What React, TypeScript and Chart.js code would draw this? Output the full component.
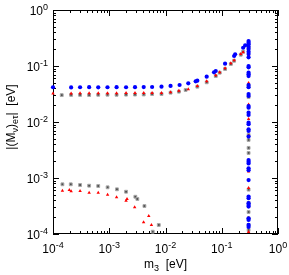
import React, { useEffect, useRef } from "react";
import { Chart, registerables } from "chart.js";

Chart.register(...registerables);

// ---- data (eV) ----
const verticalX = 0.3;

const blueMainX = [1e-4, 2.1e-4, 3.03e-4, 4.39e-4, 6.37e-4, 9.3e-4, 1.35e-3, 1.99e-3, 2.87e-3, 4.1e-3, 5.78e-3, 8.49e-3, 0.0123, 0.0178, 0.0254, 0.0344, 0.0368, 0.054, 0.0729, 0.0782, 0.1146, 0.166, 0.173, 0.24, 0.261];
const blueMainY = [0.0417, 0.0415, 0.0417, 0.0418, 0.0416, 0.0417, 0.0418, 0.0417, 0.0419, 0.042, 0.0422, 0.0427, 0.044, 0.0458, 0.0491, 0.0533, 0.0547, 0.0644, 0.0771, 0.0815, 0.11, 0.151, 0.162, 0.212, 0.234];
const blueVertY = [0.279, 0.261, 0.244, 0.221, 0.201, 0.18, 0.164, 0.143, 0.1, 0.0948, 0.0759, 0.0711, 0.0661, 0.0457, 0.0417, 0.0316, 0.0291, 0.0193, 0.018, 0.01466, 0.01334, 0.00972, 0.00911, 0.00741, 0.00691, 0.0055, 0.00209, 0.00195, 0.00182, 0.00149, 0.00138, 0.00092, 0.000467, 0.000435, 0.000355, 0.000331, 0.000309, 0.000191, 0.000178, 0.000145, 0.000134];

const redMainX = [1e-4, 2.1e-4, 3.03e-4, 4.39e-4, 6.37e-4, 9.3e-4, 1.35e-3, 1.99e-3, 2.87e-3, 4.1e-3, 5.78e-3, 8.49e-3, 0.0123, 0.0173, 0.0254, 0.0368, 0.054, 0.0782, 0.092, 0.1146, 0.145, 0.166, 0.218, 0.24];
const redMainY = [0.0322, 0.0324, 0.0325, 0.0326, 0.0326, 0.0327, 0.0327, 0.0328, 0.0329, 0.033, 0.033, 0.033, 0.0339, 0.0363, 0.0384, 0.044, 0.0533, 0.0682, 0.0776, 0.0912, 0.1117, 0.1265, 0.1637, 0.1758];
const redVertY = [0.261, 0.228, 0.19, 0.157, 0.0497, 0.03, 0.0205, 0.01132, 0.00691, 0.0057, 0.0013, 0.00066, 0.000458, 0.000305, 0.000194, 0.000109];
const redLowX = [1.47e-4, 1.95e-4, 2.1e-4, 3.03e-4, 4.39e-4, 6.37e-4, 9.35e-4, 1.35e-3, 1.99e-3, 2.07e-3, 2.83e-3, 4.08e-3, 5.04e-3, 5.62e-3];
const redLowY = [5.93e-4, 6.11e-4, 5.79e-4, 5.86e-4, 5.46e-4, 5.46e-4, 5.0e-4, 4.52e-4, 3.93e-4, 4.22e-4, 3.0e-4, 1.62e-4, 2.09e-4, 1.45e-4];

const blackMainX = [1.43e-4, 2.1e-4, 3.03e-4, 4.39e-4, 6.37e-4, 9.3e-4, 1.35e-3, 1.99e-3, 2.87e-3, 4.1e-3, 5.78e-3, 8.49e-3, 0.0123, 0.0173, 0.0228, 0.0368, 0.054, 0.0782, 0.092, 0.1146, 0.145, 0.166, 0.218, 0.24];
const blackMainY = [0.0302, 0.0305, 0.0305, 0.0303, 0.0306, 0.0307, 0.0306, 0.0308, 0.0309, 0.031, 0.0316, 0.0316, 0.0334, 0.0348, 0.0373, 0.0427, 0.0511, 0.0662, 0.0759, 0.0884, 0.1086, 0.124, 0.159, 0.18];
const blackVertY = [0.21, 0.044, 0.0279, 0.00588, 0.00478, 0.00345, 0.0028, 0.00062, 0.00036, 0.000247, 0.00019, 0.000145, 0.000118];
const blackLowX = [1.47e-4, 2.07e-4, 3.03e-4, 4.39e-4, 6.37e-4, 9.35e-4, 1.37e-3, 1.99e-3, 2.91e-3, 3.16e-3, 4.22e-3, 5.93e-3, 7.59e-3];
const blackLowY = [7.72e-4, 7.72e-4, 7.5e-4, 7.29e-4, 7.2e-4, 6.82e-4, 6.28e-4, 5.69e-4, 4.63e-4, 4.22e-4, 3.16e-4, 1.1e-4, 1.45e-4];

const tickExponents = [-4, -3, -2, -1, 0];
const xTitle = [["m", "n"], ["3", "sub"], ["  [eV]", "n"]];
const yTitle = [["|(M", "n"], ["ν", "sub"], [")", "n"], ["eτ", "sub"], ["|  [eV]", "n"]];

const FONT = '"Liberation Sans", Arial, Helvetica, sans-serif';

function pts(xs: number[], ys: number[]) {
  return xs.map((x, i) => ({ x, y: ys[i] }));
}
function vpts(ys: number[]) {
  return ys.map((y) => ({ x: verticalX, y }));
}

function segWidth(ctx: CanvasRenderingContext2D, segs: string[][]) {
  let w = 0;
  for (const [t, k] of segs) {
    ctx.font = `${k === "n" ? 12 : 9}px ${FONT}`;
    w += ctx.measureText(t).width;
  }
  return w;
}
function drawSegs(ctx: CanvasRenderingContext2D, segs: string[][], x0: number, baseline: number) {
  let x = x0;
  for (const [t, k] of segs) {
    ctx.font = `${k === "n" ? 12 : 9}px ${FONT}`;
    const dy = k === "sub" ? 3 : k === "sup" ? -5 : 0;
    ctx.fillText(t, x, baseline + dy);
    x += ctx.measureText(t).width;
  }
}

const framePlugin = {
  id: "gnuframe",
  beforeDatasetsDraw(chart: any) {
    const { ctx, chartArea } = chart;
    const { left, right, top, bottom } = chartArea;
    const xs = chart.scales.x;
    const ys = chart.scales.y;
    ctx.save();
    ctx.strokeStyle = "#000";
    ctx.lineWidth = 1;
    ctx.strokeRect(left + 0.5, top + 0.5, right - left - 1, bottom - top - 1);
    ctx.beginPath();
    for (const e of tickExponents) {
      for (let m = 1; m <= 9; m++) {
        const v = m * Math.pow(10, e);
        if (v > 1.0000001) break;
        const len = m === 1 ? 6 : 3;
        const px = Math.round(xs.getPixelForValue(v)) + 0.5;
        ctx.moveTo(px, bottom);
        ctx.lineTo(px, bottom - len);
        ctx.moveTo(px, top);
        ctx.lineTo(px, top + len);
        const py = Math.round(ys.getPixelForValue(v)) + 0.5;
        ctx.moveTo(left, py);
        ctx.lineTo(left + len, py);
        ctx.moveTo(right, py);
        ctx.lineTo(right - len, py);
      }
    }
    ctx.stroke();
    ctx.restore();
  },
  afterDraw(chart: any) {
    const { ctx, chartArea } = chart;
    const { left, right, top, bottom } = chartArea;
    const xs = chart.scales.x;
    const ys = chart.scales.y;
    ctx.save();
    ctx.fillStyle = "#000";
    ctx.textBaseline = "alphabetic";
    ctx.textAlign = "left";
    for (const e of tickExponents) {
      const segs = [["10", "n"], [String(e), "sup"]];
      const w = segWidth(ctx, segs);
      const px = xs.getPixelForValue(Math.pow(10, e));
      drawSegs(ctx, segs, px - w / 2, bottom + 19);
      const py = ys.getPixelForValue(Math.pow(10, e));
      drawSegs(ctx, segs, left - 5 - w, py + 5);
    }
    // x title
    const wx = segWidth(ctx, xTitle);
    drawSegs(ctx, xTitle, (left + right) / 2 - wx / 2, bottom + 34);
    // y title
    const wy = segWidth(ctx, yTitle);
    ctx.translate(14.5, (top + bottom) / 2 - 5);
    ctx.rotate(-Math.PI / 2);
    drawSegs(ctx, yTitle, -wy / 2, 0);
    ctx.restore();
  },
};

export default function App() {
  const ref = useRef<HTMLCanvasElement>(null);
  useEffect(() => {
    const blueStyle = { pointStyle: "circle", pointRadius: 2.1, backgroundColor: "#0000ff", borderColor: "#0000ff", borderWidth: 0 };
    const redStyle = { pointStyle: "triangle", pointRadius: 2.0, backgroundColor: "#ff0000", borderColor: "#ff0000", borderWidth: 0 };
    const blackStyle = { pointStyle: "rect", pointRadius: 2.0, backgroundColor: "#505050", borderColor: "#a8a8a8", borderWidth: 1 };
    const chart = new Chart(ref.current as HTMLCanvasElement, {
      type: "scatter",
      data: {
        datasets: [
          { label: "blue", data: [...pts(blueMainX, blueMainY), ...vpts(blueVertY)], ...blueStyle, clip: false } as any,
          { label: "red", data: [...pts(redMainX, redMainY), ...vpts(redVertY), ...pts(redLowX, redLowY)], ...redStyle, clip: false } as any,
          { label: "black", data: [...pts(blackMainX, blackMainY), ...vpts(blackVertY), ...pts(blackLowX, blackLowY)], ...blackStyle, clip: false } as any,
        ],
      },
      options: {
        responsive: false,
        animation: false,
        devicePixelRatio: 1,
        layout: { padding: { left: 53, top: 10, right: 11, bottom: 41 } },
        plugins: { legend: { display: false }, tooltip: { enabled: false } },
        scales: {
          x: { type: "logarithmic", min: 1e-4, max: 1, display: false },
          y: { type: "logarithmic", min: 1e-4, max: 1, display: false },
        },
      },
      plugins: [framePlugin],
    });
    return () => chart.destroy();
  }, []);
  return (
    <div style={{ position: "fixed", left: 0, top: 0, width: 289, height: 275, background: "#fff" }}>
      <canvas ref={ref} width={289} height={275} style={{ display: "block", width: 289, height: 275 }} />
    </div>
  );
}
